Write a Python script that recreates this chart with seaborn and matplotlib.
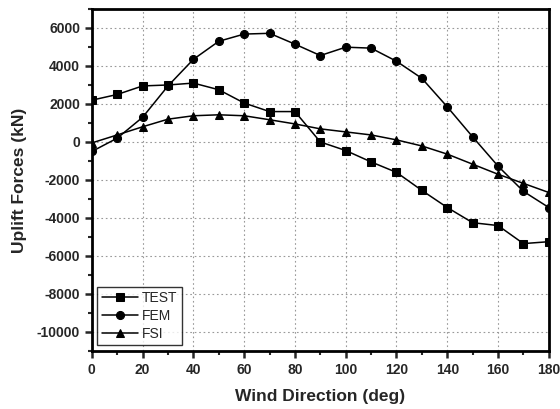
import matplotlib
matplotlib.use("Agg")
import matplotlib.pyplot as plt
import seaborn as sns
import pandas as pd
import numpy as np
from matplotlib.ticker import MultipleLocator

# Wind direction (deg)
direction = [0, 10, 20, 30, 40, 50, 60, 70, 80, 90, 100, 110, 120, 130, 140, 150, 160, 170, 180]

# Uplift forces (kN)
test_vals = [2200, 2500, 2950, 3000, 3100, 2750, 2050, 1600, 1600, 0, -450, -1050, -1600,
             -2550, -3450, -4250, -4400, -5350, -5250]
fem_vals = [-500, 200, 1300, 2950, 4350, 5300, 5680, 5720, 5150, 4550, 4990, 4940, 4250,
            3350, 1850, 270, -1270, -2600, -3450]
fsi_vals = [-50, 370, 800, 1200, 1380, 1430, 1380, 1170, 950, 690, 530, 370, 110,
            -210, -640, -1170, -1700, -2180, -2660]

series_names = ["TEST", "FEM", "FSI"]


def build_frame():
    rows = []
    for name, vals in zip(series_names, [test_vals, fem_vals, fsi_vals]):
        for d, v in zip(direction, vals):
            rows.append({"Wind Direction": d, "Uplift": v, "Series": name})
    return pd.DataFrame(rows)


def main():
    sns.set_style("white")
    plt.rcParams['font.family'] = ['Liberation Sans', 'DejaVu Sans']
    plt.rcParams['axes.unicode_minus'] = False

    df = build_frame()

    fig = plt.figure(figsize=(5.6, 4.09), dpi=100)
    ax = fig.add_axes([0.164, 0.142, 0.816, 0.836])

    sns.lineplot(
        data=df, x="Wind Direction", y="Uplift",
        hue="Series", style="Series",
        hue_order=series_names, style_order=series_names,
        palette={"TEST": "black", "FEM": "black", "FSI": "black"},
        markers={"TEST": "s", "FEM": "o", "FSI": "^"},
        dashes=False, markersize=5.8, markeredgecolor="black",
        linewidth=1.1, ax=ax,
    )

    ax.set_xlim(0, 180)
    ax.set_ylim(-11000, 7000)
    ax.xaxis.set_major_locator(MultipleLocator(20))
    ax.xaxis.set_minor_locator(MultipleLocator(10))
    ax.yaxis.set_major_locator(MultipleLocator(2000))
    ax.yaxis.set_minor_locator(MultipleLocator(1000))
    ax.set_yticks(np.arange(-10000, 6001, 2000))

    ax.grid(True, which="major", color="#999999", linestyle=(0, (1.5, 2.5)), linewidth=0.8)

    for spine in ax.spines.values():
        spine.set_linewidth(2.0)
        spine.set_color("black")

    ax.tick_params(axis="both", which="major", direction="out", length=5, width=1.8,
                   labelsize=10, bottom=True, left=True)
    ax.tick_params(axis="both", which="minor", direction="out", length=3, width=1.5,
                   bottom=True, left=True)
    for lbl in ax.get_xticklabels() + ax.get_yticklabels():
        lbl.set_fontweight("bold")

    ax.set_xlabel("Wind Direction (deg)", fontsize=12.5, fontweight="bold", labelpad=9)
    ax.set_ylabel("Uplift Forces (kN)", fontsize=12.5, fontweight="bold", labelpad=7)

    leg = ax.legend(loc="lower left", fontsize=10, frameon=True, fancybox=False,
                    borderpad=0.3, labelspacing=0.3, handlelength=2.6, handletextpad=0.3,
                    borderaxespad=0.4)
    leg.get_frame().set_edgecolor("black")
    leg.get_frame().set_linewidth(1.0)

    plt.savefig("out.png", dpi=100)
    plt.close()


if __name__ == "__main__":
    main()
